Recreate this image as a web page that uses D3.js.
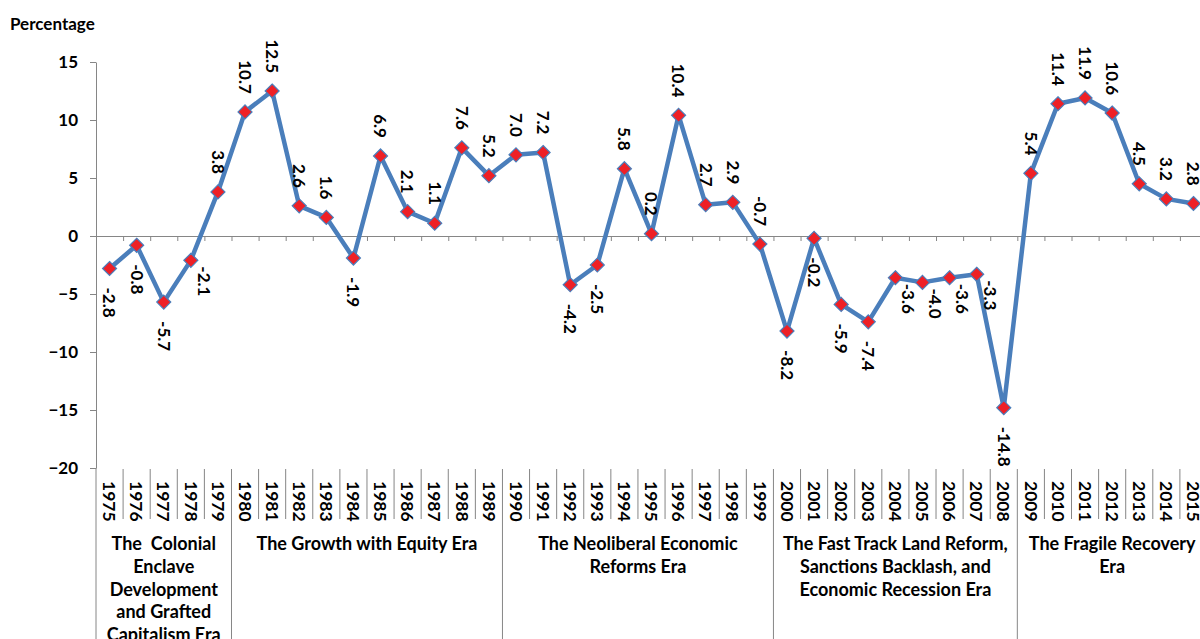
<!DOCTYPE html>
<html>
<head>
<meta charset="utf-8">
<script src="https://cdn.jsdelivr.net/npm/d3@7"></script>
<style>
  html, body { margin: 0; padding: 0; background: #fff; }
  svg { display: block; font-family: Lato, "Open Sans", sans-serif; }
</style>
</head>
<body>
<svg id="chart"></svg>
<script>
// Datos: crecimiento anual (%) 1975-2015
const years = d3.range(1975, 2016);
const growth = [
  -2.8, -0.8, -5.7, -2.1, 3.8,
  10.7, 12.5, 2.6, 1.6, -1.9, 6.9, 2.1, 1.1, 7.6, 5.2,
  7.0, 7.2, -4.2, -2.5, 5.8, 0.2, 10.4, 2.7, 2.9, -0.7,
  -8.2, -0.2, -5.9, -7.4, -3.6, -4.0, -3.6, -3.3, -14.8,
  5.4, 11.4, 11.9, 10.6, 4.5, 3.2, 2.8
];
const yTicks = [-20, -15, -10, -5, 0, 5, 10, 15];

// Eras (primer y último año, texto por líneas)
const eraStart = [1975, 1980, 1990, 2000, 2009];
const eraEnd = [1979, 1989, 1999, 2008, 2015];
const eraNames = [
  ["The  Colonial", "Enclave", "Development", "and Grafted", "Capitalism Era"],
  ["The Growth with Equity Era"],
  ["The Neoliberal Economic", "Reforms Era"],
  ["The Fast Track Land Reform,", "Sanctions Backlash, and", "Economic Recession Era"],
  ["The Fragile Recovery", "Era"]
];

// Etiquetas que no siguen la regla arriba/abajo
const labelRight = [1978, 2004, 2005, 2006, 2007];
const labelAbove = [1999];

drawChart(years.map(function(yr, i) { return { year: yr, value: growth[i] }; }));

function drawChart(data) {
var svgWidth = 1200, svgHeight = 639;
var svg = d3.select("#chart")
    .attr("width", svgWidth)
    .attr("height", svgHeight);

var plotLeft = 96, plotRight = 1207, plotTop = 62, plotBottom = 468;

var x = d3.scaleBand()
    .domain(years)
    .range([plotLeft, plotRight]);

var y = d3.scaleLinear()
    .domain([-20, 15])
    .range([plotBottom, plotTop]);

// Escala lineal para los bordes de cada categoría
var edge = d3.scaleLinear()
    .domain([0, years.length])
    .range([plotLeft, plotRight]);

var axisColor = "#868686";

// Eje Y
var yAxis = svg.append("g")
    .attr("transform", "translate(" + plotLeft + ",0)")
    .call(d3.axisLeft(y).tickValues(yTicks).tickSize(6).tickSizeOuter(0).tickPadding(12));
yAxis.selectAll("path, line").attr("stroke", axisColor);
yAxis.selectAll("text")
    .attr("font-size", 17)
    .attr("font-weight", 700)
    .attr("fill", "#000")
    .attr("font-family", "Lato, sans-serif");

// Eje X en el cero
var xAxis = svg.append("g")
    .attr("transform", "translate(0," + y(0) + ")")
    .call(d3.axisBottom(edge).tickValues(d3.range(1, years.length + 1)).tickSize(5).tickSizeOuter(0).tickFormat(""));
xAxis.selectAll("path, line").attr("stroke", axisColor);

// Título del eje
svg.append("text")
    .attr("x", 10)
    .attr("y", 30)
    .attr("font-size", 17)
    .attr("font-weight", 700)
    .text("Percentage");

// Prolongación del eje Y bajo el gráfico
svg.append("line")
    .attr("x1", plotLeft).attr("x2", plotLeft)
    .attr("y1", plotBottom).attr("y2", svgHeight)
    .attr("stroke", axisColor);

// Separadores de años
var eraEdges = eraStart.slice(1).map(function(s) { return years.indexOf(s); });
svg.append("g").selectAll("line")
    .data(d3.range(1, years.length + 1))
    .join("line")
    .attr("x1", function(d) { return edge(d); })
    .attr("x2", function(d) { return edge(d); })
    .attr("y1", plotBottom + 1)
    .attr("y2", function(d) { return eraEdges.indexOf(d) >= 0 ? svgHeight : 519; })
    .attr("stroke", axisColor);

// Años (rotados)
svg.append("g").selectAll("text")
    .data(years)
    .join("text")
    .attr("transform", function(d) { return "translate(" + (x(d) + x.bandwidth() / 2) + ",481) rotate(90)"; })
    .attr("dy", "0.36em")
    .attr("font-size", 17.5)
    .attr("font-weight", 700)
    .text(function(d) { return d; });

// Nombres de las eras
eraNames.forEach(function(lines, i) {
  var cx = (x(eraStart[i]) + x(eraEnd[i]) + x.bandwidth()) / 2;
  var t = svg.append("text")
      .attr("text-anchor", "middle")
      .attr("font-size", 18)
      .attr("font-weight", 700)
      .attr("xml:space", "preserve");
  lines.forEach(function(l, j) {
    t.append("tspan")
        .attr("x", cx)
        .attr("y", 550 + j * 22.8)
        .text(l);
  });
});

// Línea
var line = d3.line()
    .x(function(d) { return x(d.year) + x.bandwidth() / 2; })
    .y(function(d) { return y(d.value); });

svg.append("path")
    .datum(data)
    .attr("fill", "none")
    .attr("stroke", "#4A7EBB")
    .attr("stroke-width", 4.5)
    .attr("stroke-linejoin", "round")
    .attr("d", line);

// Marcadores en rombo
var r = 7;
svg.append("g").selectAll("path")
    .data(data)
    .join("path")
    .attr("transform", function(d) { return "translate(" + (x(d.year) + x.bandwidth() / 2) + "," + y(d.value) + ")"; })
    .attr("d", "M0," + (-r) + "L" + r + ",0L0," + r + "L" + (-r) + ",0Z")
    .attr("fill", "#EE2026")
    .attr("stroke", "#4A7EBB")
    .attr("stroke-width", 1.2);

// Etiquetas de datos (rotadas)
svg.append("g").selectAll("text")
    .data(data)
    .join("text")
    .attr("transform", function(d) {
      var px = x(d.year) + x.bandwidth() / 2, py = y(d.value);
      if (labelRight.indexOf(d.year) >= 0) return "translate(" + (px + 13) + "," + (py + 6) + ") rotate(90)";
      if (d.value >= 0 || labelAbove.indexOf(d.year) >= 0) return "translate(" + px + "," + (py - 18) + ") rotate(90)";
      return "translate(" + px + "," + (py + 19) + ") rotate(90)";
    })
    .attr("text-anchor", function(d) {
      if (labelRight.indexOf(d.year) >= 0) return "start";
      return (d.value >= 0 || labelAbove.indexOf(d.year) >= 0) ? "end" : "start";
    })
    .attr("dy", "0.36em")
    .attr("font-size", 17)
    .attr("font-weight", 700)
    .text(function(d) { return d.value.toFixed(1); });
}
</script>
</body>
</html>
